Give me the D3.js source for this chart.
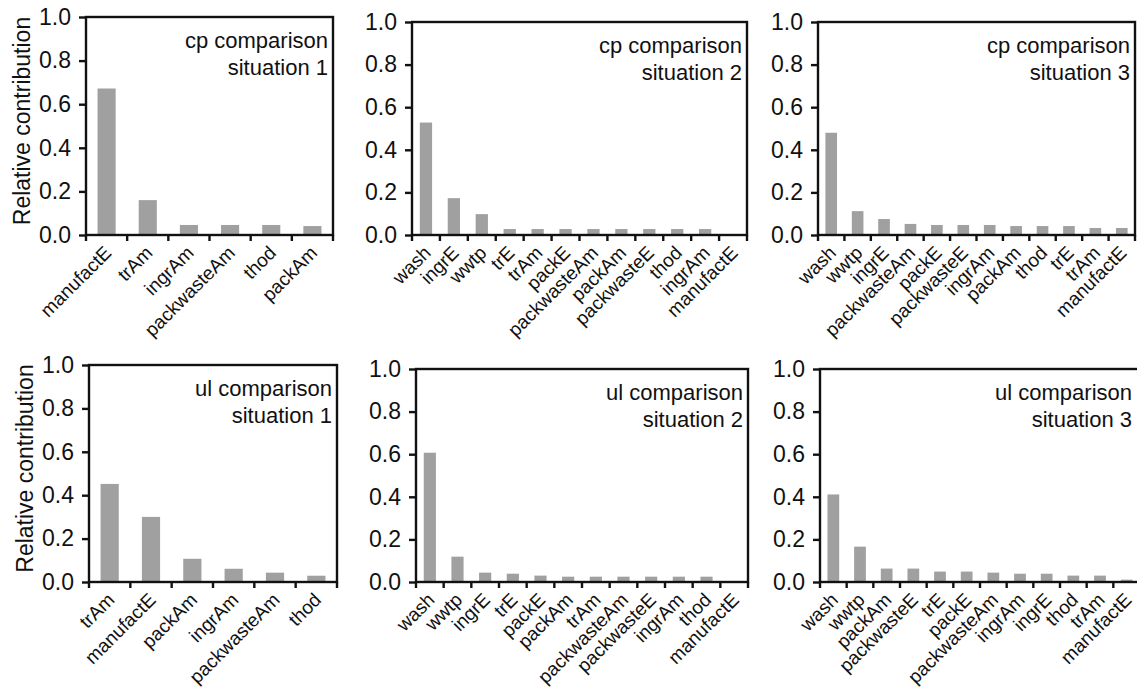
<!DOCTYPE html>
<html>
<head>
<meta charset="utf-8">
<script src="https://cdn.jsdelivr.net/npm/d3@7"></script>
<style>
body { margin: 0; background: #fff; }
svg { display: block; }
text { font-family: "Liberation Sans", Arial, sans-serif; fill: #111; }
</style>
</head>
<body>
<svg id="chart" width="1137" height="687"></svg>
<script>
// data
const yTicks = [0, 0.2, 0.4, 0.6, 0.8, 1.0];

const cp1Labels = ["manufactE", "trAm", "ingrAm", "packwasteAm", "thod", "packAm"];
const cp1Values = [0.672, 0.16, 0.046, 0.046, 0.046, 0.041];

const cp2Labels = ["wash", "ingrE", "wwtp", "trE", "trAm", "packE", "packwasteAm", "packAm", "packwasteE", "thod", "ingrAm", "manufactE"];
const cp2Values = [0.528, 0.173, 0.098, 0.028, 0.028, 0.028, 0.028, 0.028, 0.028, 0.028, 0.028, 0.0];

const cp3Labels = ["wash", "wwtp", "ingrE", "packwasteAm", "packE", "packwasteE", "ingrAm", "packAm", "thod", "trE", "trAm", "manufactE"];
const cp3Values = [0.48, 0.112, 0.075, 0.052, 0.047, 0.047, 0.047, 0.042, 0.042, 0.042, 0.033, 0.033];

const ul1Labels = ["trAm", "manufactE", "packAm", "ingrAm", "packwasteAm", "thod"];
const ul1Values = [0.452, 0.30, 0.107, 0.061, 0.043, 0.029];

const ul2Labels = ["wash", "wwtp", "ingrE", "trE", "packE", "packAm", "trAm", "packwasteAm", "packwasteE", "ingrAm", "thod", "manufactE"];
const ul2Values = [0.607, 0.119, 0.044, 0.039, 0.030, 0.025, 0.025, 0.025, 0.025, 0.025, 0.025, 0.0];

const ul3Labels = ["wash", "wwtp", "packAm", "packwasteE", "trE", "packE", "packwasteAm", "ingrAm", "ingrE", "thod", "trAm", "manufactE"];
const ul3Values = [0.411, 0.166, 0.063, 0.063, 0.049, 0.049, 0.044, 0.039, 0.039, 0.030, 0.030, 0.011];

const titles = [
    ["cp comparison", "situation 1"], ["cp comparison", "situation 2"], ["cp comparison", "situation 3"],
    ["ul comparison", "situation 1"], ["ul comparison", "situation 2"], ["ul comparison", "situation 3"]
];

function render_panel(svg, labels, values, title, box, showYLabel)
{
    const x = d3.scaleBand().domain(labels).range([box.x0, box.x1]);
    const y = d3.scaleLinear().domain([0, 1]).range([box.y1, box.y0]);
    const g = svg.append("g");

    g.append("g")
        .selectAll("rect")
        .data(labels.map((l, i) => ({ l: l, v: values[i] })))
        .join("rect")
            .attr("x", d => x(d.l) + x.bandwidth() * 0.28)
            .attr("width", x.bandwidth() * 0.44)
            .attr("y", d => y(d.v))
            .attr("height", d => y(0) - y(d.v))
            .attr("fill", "#a0a0a0");

    // frame
    g.append("rect")
        .attr("x", box.x0).attr("y", box.y0)
        .attr("width", box.x1 - box.x0).attr("height", box.y1 - box.y0)
        .attr("fill", "none").attr("stroke", "#111").attr("stroke-width", 2.4);

    const yAxis = d3.axisLeft(y)
        .tickValues(yTicks)
        .tickFormat(d3.format(".1f"))
        .tickSize(7)
        .tickPadding(8);
    const ya = g.append("g")
        .attr("transform", `translate(${box.x0},0)`)
        .call(yAxis);
    ya.select(".domain").remove();
    ya.selectAll("line").attr("stroke", "#111").attr("stroke-width", 2.4);
    ya.selectAll("text").attr("font-size", 23).attr("font-family", null);

    // x ticks at category boundaries
    g.append("g")
        .selectAll("line")
        .data(d3.range(labels.length + 1))
        .join("line")
            .attr("x1", i => box.x0 + i * x.step())
            .attr("x2", i => box.x0 + i * x.step())
            .attr("y1", box.y1)
            .attr("y2", box.y1 + 6)
            .attr("stroke", "#111")
            .attr("stroke-width", 2.4);

    g.append("g")
        .attr("font-size", 19)
        .selectAll("text")
        .data(labels)
        .join("text")
            .attr("text-anchor", "end")
            .attr("transform", d => `translate(${x(d) + x.bandwidth() / 2 + 6},${box.y1 + 19}) rotate(-45)`)
            .text(d => d);

    g.append("text")
        .attr("text-anchor", "end")
        .attr("font-size", 22)
        .selectAll("tspan")
        .data(title)
        .join("tspan")
            .attr("x", Math.min(box.x1, 1137) - 5)
            .attr("y", (d, i) => box.y0 + 31 + i * 27)
            .text(d => d);

    if (showYLabel)
    {
        g.append("text")
            .attr("text-anchor", "middle")
            .attr("font-size", 23)
            .attr("transform", `translate(${box.x0 - 56},${(box.y0 + box.y1) / 2 - 5}) rotate(-90)`)
            .text("Relative contribution");
    }
}

const boxes = [
    { x0: 86, x1: 333, y0: 17, y1: 235 },
    { x0: 412, x1: 747, y0: 22, y1: 235 },
    { x0: 818, x1: 1135, y0: 22, y1: 235 },
    { x0: 89, x1: 337, y0: 365, y1: 582 },
    { x0: 416, x1: 748, y0: 369, y1: 582 },
    { x0: 820, x1: 1140, y0: 369, y1: 582 }
];

const svg = d3.select("#chart");
const panelLabels = [cp1Labels, cp2Labels, cp3Labels, ul1Labels, ul2Labels, ul3Labels];
const panelValues = [cp1Values, cp2Values, cp3Values, ul1Values, ul2Values, ul3Values];

panelLabels.forEach((labels, i) => {
    render_panel(svg, labels, panelValues[i], titles[i], boxes[i], i % 3 === 0);
});
</script>
</body>
</html>
